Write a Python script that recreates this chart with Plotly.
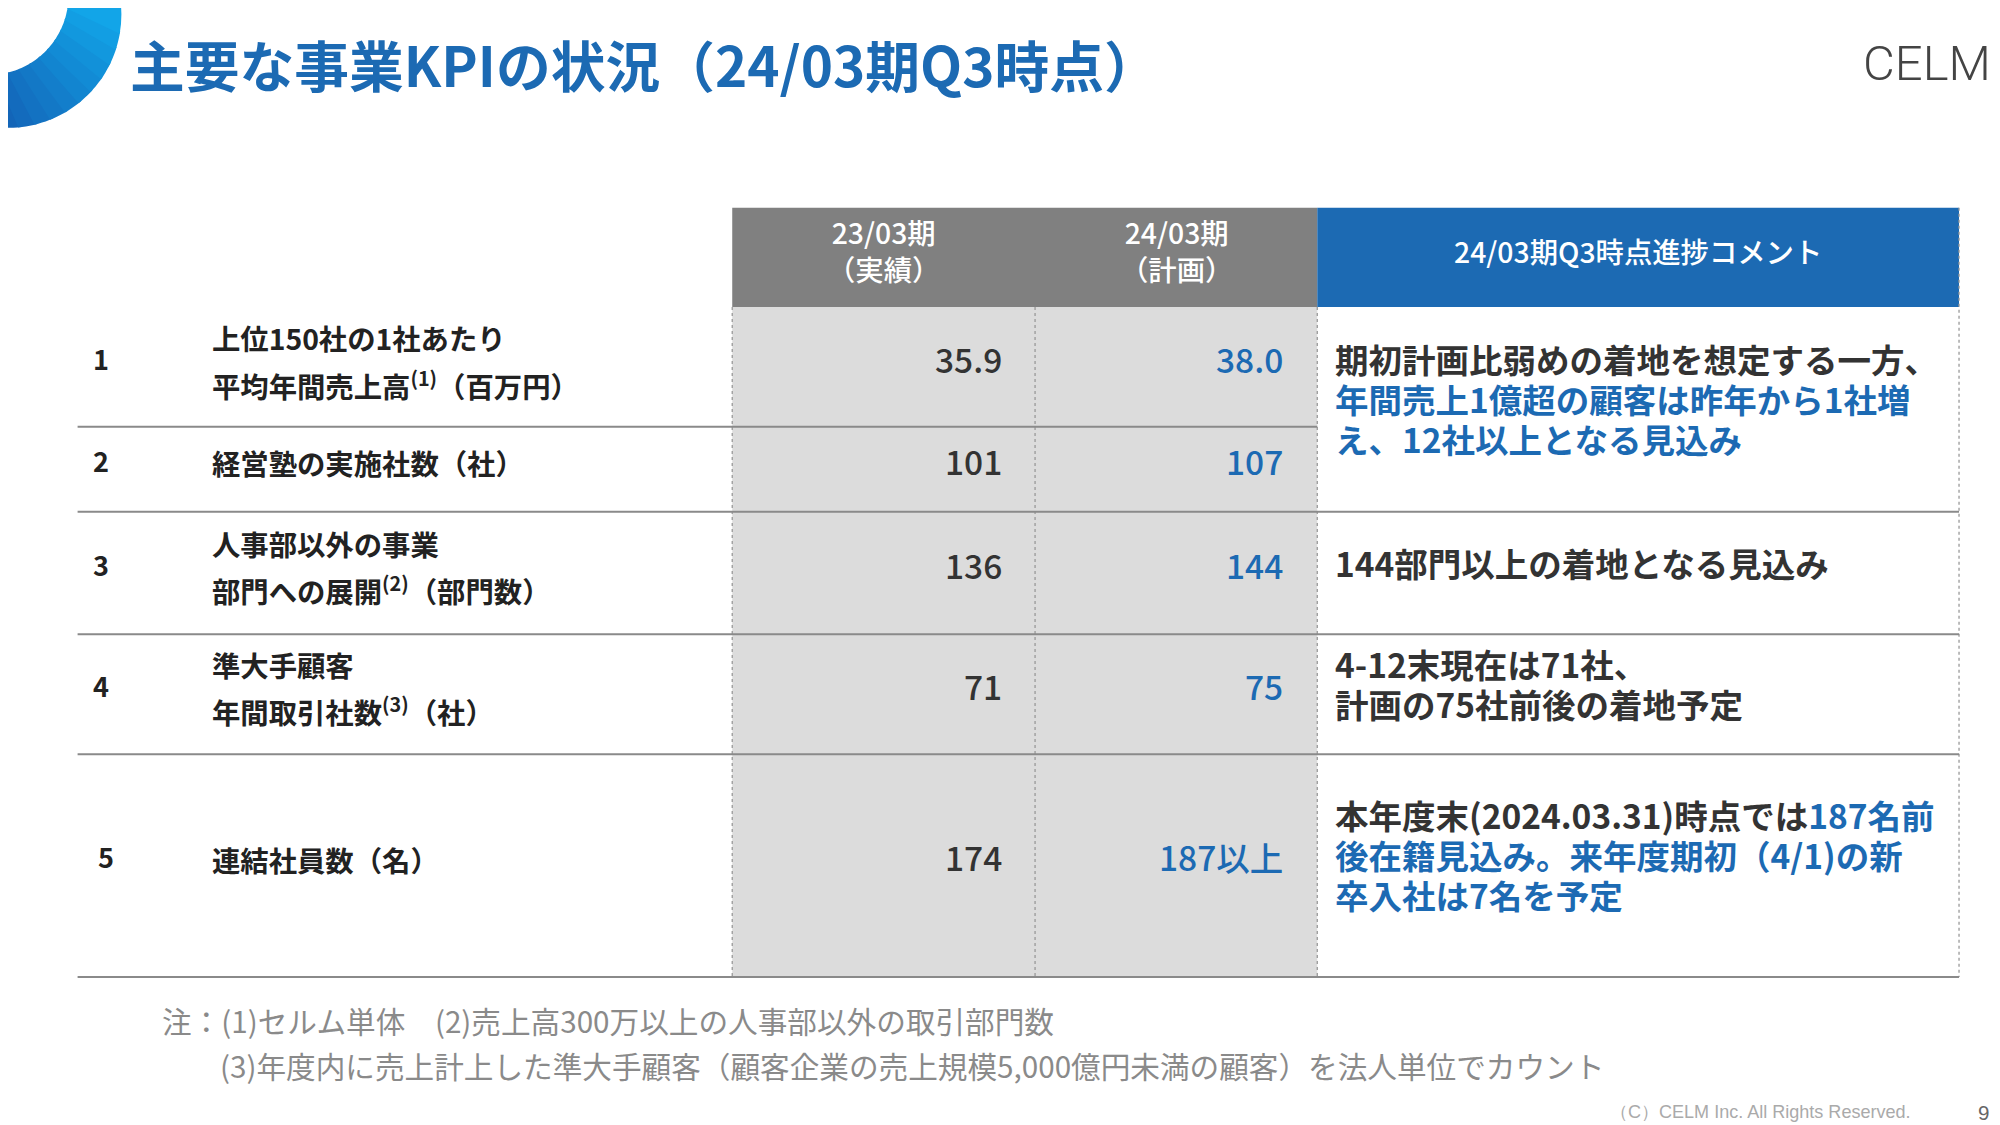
import plotly.graph_objects as go
import math

S = 2000 / 1552.0
def p(v): return v * S
DY = -7  # vertical text correction (display px)

title = "主要な事業KPIの状況（24/03期Q3時点）"
header_cols = ["23/03期<br>（実績）", "24/03期<br>（計画）", "24/03期Q3時点進捗コメント"]
row_nums = ["1", "2", "3", "4", "5"]
row_labels = [
    ["上位150社の1社あたり", "平均年間売上高<sup>(1)</sup>（百万円）"],
    ["経営塾の実施社数（社）"],
    ["人事部以外の事業", "部門への展開<sup>(2)</sup>（部門数）"],
    ["準大手顧客", "年間取引社数<sup>(3)</sup>（社）"],
    ["連結社員数（名）"],
]
actual_vals = ["35.9", "101", "136", "71", "174"]
plan_vals = ["38.0", "107", "144", "75", "187以上"]
BLUE = "#1c6ab3"
DARK = "#333333"
comment_lines = [
    [("期初計画比弱めの着地を想定する一方、", None), ("年間売上1億超の顧客は昨年から1社増", None), ("え、12社以上となる見込み", None)],
    [("144部門以上の着地となる見込み", None)],
    [("4-12末現在は71社、", None), ("計画の75社前後の着地予定", None)],
    [("本年度末(2024.03.31)時点では", "187名前"), ("後在籍見込み。来年度期初（4/1)の新", None), ("卒入社は7名を予定", None)],
]
comment_colors = [
    [DARK, BLUE, BLUE],
    [DARK],
    [DARK, DARK],
    [DARK, BLUE, BLUE],
]
comment_y0 = [279, 437, 516, 633]
footnotes = ["注：(1)セルム単体　(2)売上高300万以上の人事部以外の取引部門数",
             "(3)年度内に売上計上した準大手顧客（顧客企業の売上規模5,000億円未満の顧客）を法人単位でカウント"]

row_bounds = [232, 325, 391, 486, 579, 752]
colx = [562, 797, 1016, 1514]
FONT = "Noto Sans CJK JP"

fig = go.Figure()
fig.add_trace(go.Scatter(x=[0, 2000], y=[0, 1125], mode="markers", marker=dict(opacity=0), hoverinfo="skip"))
shapes = []
ann = []

def outer(a): return (p(0) + p(88) * math.cos(a), p(5) + p(88) * math.sin(a))
def inner(a): return (p(-15) + p(62) * math.cos(a), p(-10) + p(62) * math.sin(a))
N = 12
c0 = (20, 95, 180); c1 = (18, 165, 232)
for k in range(N):
    a0 = math.radians(100 - k * 100 / N + 1.5); a1 = math.radians(100 - (k + 1) * 100 / N)
    if k == N - 1: a1 = math.radians(-15)
    pts = []
    for j in range(6):
        pts.append(outer(a0 + (a1 - a0) * j / 5))
    for j in range(6):
        pts.append(inner(a1 + (a0 - a1) * j / 5))
    t = k / (N - 1)
    col = "rgb(%d,%d,%d)" % tuple(int(c0[i] + (c1[i] - c0[i]) * t) for i in range(3))
    path = "M " + " L ".join(f"{x:.1f},{y:.1f}" for x, y in pts) + " Z"
    shapes.append(dict(type="path", path=path, fillcolor=col, line=dict(width=0), layer="below"))

shapes.append(dict(type="rect", x0=p(562), x1=p(1016), y0=p(155), y1=p(232), fillcolor="#808080", line=dict(width=0), layer="below"))
shapes.append(dict(type="rect", x0=p(1016), x1=p(1514), y0=p(155), y1=p(232), fillcolor=BLUE, line=dict(width=0), layer="below"))
shapes.append(dict(type="rect", x0=p(562), x1=p(1016), y0=p(232), y1=p(752), fillcolor="#dcdcdc", line=dict(width=0), layer="below"))
for i, h in enumerate(header_cols):
    ann.append(dict(x=p((colx[i] + colx[i + 1]) / 2), y=p(193 + DY + 2), text=h, showarrow=False,
                    font=dict(family=FONT, size=p(22), color="white", weight=500), xanchor="center", yanchor="middle"))
for x in colx:
    shapes.append(dict(type="line", x0=p(x), x1=p(x), y0=p(232 if x != 1514 else 155), y1=p(752),
                       line=dict(color="#999999", width=1.3, dash="dot")))
for i, yb in enumerate(row_bounds[1:]):
    x1 = 1016 if i == 0 else 1514
    shapes.append(dict(type="line", x0=p(54), x1=p(x1), y0=p(yb), y1=p(yb), line=dict(color="#8a8a8a", width=2)))

for i in range(5):
    yc = (row_bounds[i] + row_bounds[i + 1]) / 2
    if i == 0: yc = 279
    ann.append(dict(x=p(72 if i < 4 else 76), y=p(yc + DY), text="<b>%s</b>" % row_nums[i], showarrow=False,
                    font=dict(family=FONT, size=p(21), color="#222"), xanchor="center", yanchor="middle"))
    labs = row_labels[i]
    ys = [yc + 2] if len(labs) == 1 else [yc - 16, yc + 20]
    for t, yy in zip(labs, ys):
        ann.append(dict(x=p(157), y=p(yy + DY), text="<b>%s</b>" % t, showarrow=False,
                        font=dict(family=FONT, size=p(22), color="#222"), xanchor="left", yanchor="middle"))
    ann.append(dict(x=p(773), y=p(yc + DY), text=actual_vals[i], showarrow=False,
                    font=dict(family=FONT, size=p(26), color=DARK, weight=500), xanchor="right", yanchor="middle"))
    ann.append(dict(x=p(991), y=p(yc + DY), text=plan_vals[i], showarrow=False,
                    font=dict(family=FONT, size=p(26), color=BLUE, weight=500), xanchor="right", yanchor="middle"))

for r, lines in enumerate(comment_lines):
    for j, (t, extra) in enumerate(lines):
        txt = t if extra is None else t + "<span style='color:%s'>%s</span>" % (BLUE, extra)
        ann.append(dict(x=p(1028), y=p(comment_y0[r] + 31 * j + DY), text="<b>%s</b>" % txt, showarrow=False,
                        font=dict(family=FONT, size=p(26), color=comment_colors[r][j]), xanchor="left", yanchor="middle"))

ann.append(dict(x=p(93), y=p(50 + DY), text="<b>%s</b>" % title, showarrow=False,
                font=dict(family=FONT, size=p(42.5), color=BLUE), xanchor="left", yanchor="middle"))
ann.append(dict(x=p(1540), y=p(50 + DY), text="CELM", showarrow=False,
                font=dict(family="Roboto", size=p(38), color="#444", weight=300), xanchor="right", yanchor="middle"))
ann.append(dict(x=p(118), y=p(793 + DY), text=footnotes[0], showarrow=False,
                font=dict(family=FONT, size=p(23), color="#8a8a8a"), xanchor="left", yanchor="middle"))
ann.append(dict(x=p(163), y=p(828 + DY), text=footnotes[1], showarrow=False,
                font=dict(family=FONT, size=p(23), color="#8a8a8a"), xanchor="left", yanchor="middle"))
ann.append(dict(x=p(1478), y=p(857), text="（C）CELM Inc. All Rights Reserved.", showarrow=False,
                font=dict(family="Liberation Sans", size=p(14), color="#aaaaaa"), xanchor="right", yanchor="middle"))
ann.append(dict(x=p(1533), y=p(857), text="9", showarrow=False,
                font=dict(family="Liberation Sans", size=p(16), color="#666"), xanchor="center", yanchor="middle"))

fig.update_layout(width=2000, height=1125, margin=dict(l=0, r=0, t=0, b=0),
                  paper_bgcolor="white", plot_bgcolor="white", showlegend=False,
                  xaxis=dict(range=[0, 2000], visible=False, fixedrange=True),
                  yaxis=dict(range=[1125, 0], visible=False, fixedrange=True),
                  shapes=shapes, annotations=ann)
fig.write_html("out.html")
